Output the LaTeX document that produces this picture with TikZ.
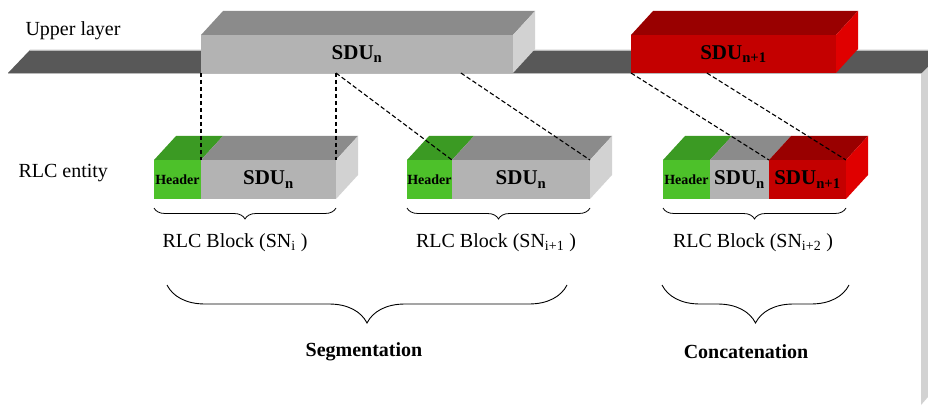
\documentclass[tikz,border=0pt]{standalone}
\usepackage{fontspec}
\setmainfont{Liberation Serif}
\usetikzlibrary{positioning, calc, decorations.pathreplacing}
\definecolor{layergray}{HTML}{585858}
\definecolor{sdufront}{HTML}{B3B3B3}
\definecolor{sdutop}{HTML}{8B8B8B}
\definecolor{sduside}{HTML}{D2D2D2}
\definecolor{redfront}{HTML}{C40000}
\definecolor{redtop}{HTML}{990000}
\definecolor{redside}{HTML}{E00000}
\definecolor{hdrfront}{HTML}{4DC12A}
\definecolor{hdrtop}{HTML}{3B9A23}

\tikzset{
  face/.style={inner sep=0pt, outer sep=0pt},
  sdubox/.style={face, fill=sdufront, font=\fontsize{21}{24}\selectfont\bfseries},
  redbox/.style={face, fill=redfront, font=\fontsize{21}{24}\selectfont\bfseries},
  hdrbox/.style={face, fill=hdrfront, font=\fontsize{14}{16}\selectfont\bfseries},
  lbl/.style={font=\fontsize{20}{24}\selectfont},
  opname/.style={font=\fontsize{20}{24}\selectfont\bfseries},
  cut/.style={draw=black, line width=1.1pt, dash pattern=on 4.5pt off 2.5pt},
  smallbrace/.style={draw, line width=0.8pt, decorate, decoration={brace, mirror, amplitude=11pt}},
  bigbrace/.style={draw, line width=0.9pt, decorate, decoration={brace, mirror, amplitude=38pt}}
}

% depth of the 3D boxes is (22,-24)
\newcommand{\topface}[2]{\fill[#2] (#1.north west) -- ++(22,-24) -- ([shift={(22,-24)}]#1.north east) -- (#1.north east) -- cycle;}
\newcommand{\sideface}[2]{\fill[#2] (#1.north east) -- ++(22,-24) -- ([shift={(22,-24)}]#1.south east) -- (#1.south east) -- cycle;}

\begin{document}
\begin{tikzpicture}[x=1pt, y=-1pt]
  \useasboundingbox (0,0) rectangle (928,406);

  % upper layer bar
  \fill[layergray] (8,73) -- (30,50) -- (928,50) -- (928,67) -- (922,73) -- cycle;
  \draw[gray!55, line width=0.6pt] (30,50) -- (928,50) (8,73) -- (922,73);
  \fill[sduside] (921,74) -- (928,67) -- (928,397) -- (921,405) -- cycle;

  \node[lbl, anchor=west] (upper) at (22,31) {Upper layer};
  \node[lbl, anchor=west] (entity) at (15,173) {RLC entity};

  % SDUs of the upper layer
  \node[sdubox, minimum width=312pt, minimum height=38pt, anchor=north west] (sdu-n) at (201,35) {SDU\textsubscript{n}};
  \topface{sdu-n}{sdutop}
  \sideface{sdu-n}{sduside}

  \node[redbox, minimum width=205pt, minimum height=38pt, anchor=north west] (sdu-n1) at (631,35) {SDU\textsubscript{n+1}};
  \topface{sdu-n1}{redtop}
  \sideface{sdu-n1}{redside}

  % RLC blocks
  \node[hdrbox, minimum width=47pt, minimum height=39pt, anchor=north west] (b1-hdr) at (154,160) {Header};
  \node[sdubox, minimum width=135pt, minimum height=39pt, right=0pt of b1-hdr] (b1-sdu) {SDU\textsubscript{n}};
  \topface{b1-hdr}{hdrtop}
  \topface{b1-sdu}{sdutop}
  \sideface{b1-sdu}{sduside}

  \node[hdrbox, minimum width=45pt, minimum height=39pt, anchor=north west] (b2-hdr) at (407,160) {Header};
  \node[sdubox, minimum width=138pt, minimum height=39pt, right=0pt of b2-hdr] (b2-sdu) {SDU\textsubscript{n}};
  \topface{b2-hdr}{hdrtop}
  \topface{b2-sdu}{sdutop}
  \sideface{b2-sdu}{sduside}

  \node[hdrbox, minimum width=47pt, minimum height=39pt, anchor=north west] (b3-hdr) at (663,160) {Header};
  \node[sdubox, minimum width=59pt, minimum height=39pt, right=0pt of b3-hdr] (b3-sdu) {SDU\textsubscript{n}};
  \node[redbox, minimum width=77pt, minimum height=39pt, right=0pt of b3-sdu] (b3-red) {SDU\textsubscript{n+1}};
  \topface{b3-hdr}{hdrtop}
  \topface{b3-sdu}{sdutop}
  \topface{b3-red}{redtop}
  \sideface{b3-red}{redside}

  % cut lines
  \coordinate (cut1) at (b1-sdu.north east |- sdu-n.south);
  \coordinate (cut2) at ($(sdu-n.south west)!0.833!(sdu-n.south east)$);
  \coordinate (cut3) at ($(sdu-n1.south west)!0.37!(sdu-n1.south east)$);
  \draw[cut] (sdu-n.south west) -- (b1-sdu.north west);
  \draw[cut] (cut1) -- (b1-sdu.north east);
  \draw[cut] (cut1) -- (b2-sdu.north west);
  \draw[cut] (cut2) -- (b2-sdu.north east);
  \draw[cut] (sdu-n1.south west) -- (b3-red.north west);
  \draw[cut] (cut3) -- (b3-red.north east);

  % braces and labels
  \draw[smallbrace] (b1-hdr.south west) ++(0,9) coordinate (br1a) -- (br1a -| b1-sdu.east);
  \draw[smallbrace] (b2-hdr.south west) ++(0,9) coordinate (br2a) -- (br2a -| b2-sdu.east);
  \draw[smallbrace] (b3-hdr.south west) ++(0,9) coordinate (br3a) -- (br3a -| b3-red.east);

  \node[lbl] (blk1) at (235,243) {RLC Block (SN\textsubscript{i} )};
  \node[lbl] (blk2) at (496,243) {RLC Block (SN\textsubscript{i+1} )};
  \node[lbl] (blk3) at (753,243) {RLC Block (SN\textsubscript{i+2} )};

  \draw[bigbrace] (167,285) -- (567,285);
  \draw[bigbrace] (662,285) -- (849,285);

  \node[opname] (seg) at (364,352) {Segmentation};
  \node[opname] (concat) at (746,352) {Concatenation};
\end{tikzpicture}
\end{document}
